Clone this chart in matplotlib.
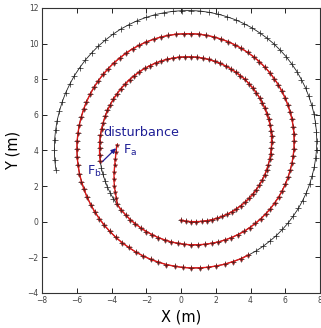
import numpy as np
import matplotlib
matplotlib.use("Agg")
import matplotlib.pyplot as plt

# Reference spiral path in polar form about its centre
centre_x = 0.585
centre_y = 4.30
theta_deg = [-98, -94, -90, -86, -82, -78, -74, -70, -66, -62, -58, -54, -50, -46, -42, -38, -34, -30,
             -26, -22, -18, -14, -10, -6, -2, 2, 6, 10, 14, 18, 22, 26, 30, 34, 38, 42, 46, 50, 54, 58,
             62, 66, 70, 74, 78, 82, 86, 90, 94, 98, 102, 106, 110, 114, 118, 122, 126, 130, 134, 138,
             142, 146, 150, 154, 158, 162, 166, 170, 174, 178, 182, 186, 190, 194, 198, 202, 206, 210,
             214, 218, 222, 226, 230, 234, 238, 242, 246, 250, 254, 258, 262, 266, 270, 274, 278, 282,
             286, 290, 294, 298, 302, 306, 310, 314, 318, 322, 326, 330, 334, 338, 342, 346, 350, 354,
             358, 362, 366, 370, 374, 378, 382, 386, 390, 394, 398, 402, 406, 410, 414, 418, 422, 426,
             430, 434, 438, 442, 446, 450, 454, 458, 462, 466, 470, 474, 478, 482, 486, 490, 494, 498,
             502, 506, 510, 514, 518, 522, 526, 530, 534, 538, 542, 546, 550, 554, 558, 562, 566, 570,
             574, 578, 582, 586, 590, 594, 598, 602, 606, 610, 614, 618, 622, 626, 630, 634, 638, 642,
             646, 650, 654, 658, 662, 666, 670, 674, 678, 682, 686, 690, 694, 698, 702, 706, 710, 714,
             718, 722, 726, 730, 734, 738, 742, 746, 750, 754, 758, 762, 766, 770, 774, 778, 782, 786,
             790, 794, 798, 802, 806, 810, 814, 818, 822, 826, 830, 834, 838, 842, 846, 850, 854, 858,
             862, 866, 870, 874, 878, 882, 886, 890, 894, 898, 902, 906, 910]
radius_m = [4.27, 4.29,
            4.30, 4.31, 4.33, 4.34, 4.36, 4.37, 4.39, 4.40, 4.42,
            4.43, 4.44, 4.46, 4.47, 4.49, 4.50, 4.52, 4.53, 4.55,
            4.56, 4.57, 4.59, 4.60, 4.62, 4.63, 4.65, 4.66, 4.68,
            4.69, 4.70, 4.72, 4.73, 4.75, 4.76, 4.78, 4.79, 4.81,
            4.82, 4.83, 4.85, 4.86, 4.88, 4.89, 4.91, 4.92, 4.94,
            4.95, 4.96, 4.98, 4.99, 5.01, 5.02, 5.04, 5.05, 5.07,
            5.08, 5.09, 5.11, 5.12, 5.14, 5.15, 5.17, 5.18, 5.20,
            5.21, 5.22, 5.24, 5.25, 5.27, 5.28, 5.30, 5.31, 5.33,
            5.34, 5.35, 5.37, 5.38, 5.40, 5.41, 5.43, 5.44, 5.46,
            5.47, 5.48, 5.50, 5.51, 5.53, 5.54, 5.56, 5.57, 5.59,
            5.60, 5.61, 5.63, 5.64, 5.66, 5.67, 5.69, 5.70, 5.72,
            5.73, 5.74, 5.76, 5.77, 5.79, 5.80, 5.82, 5.83, 5.85,
            5.86, 5.87, 5.89, 5.90, 5.92, 5.93, 5.95, 5.96, 5.98,
            5.99, 6.00, 6.02, 6.03, 6.05, 6.06, 6.08, 6.09, 6.11,
            6.12, 6.13, 6.15, 6.16, 6.18, 6.19, 6.21, 6.22, 6.24,
            6.25, 6.26, 6.28, 6.29, 6.31, 6.32, 6.34, 6.35, 6.37,
            6.38, 6.39, 6.41, 6.42, 6.44, 6.45, 6.47, 6.48, 6.50,
            6.51, 6.52, 6.54, 6.55, 6.57, 6.58, 6.60, 6.61, 6.63,
            6.64, 6.65, 6.67, 6.68, 6.70, 6.71, 6.73, 6.74, 6.76,
            6.77, 6.78, 6.80, 6.81, 6.83, 6.84, 6.86, 6.87, 6.89,
            6.90, 6.91, 6.93, 6.94, 6.96, 6.97, 6.99, 7.00, 7.02,
            7.03, 7.04, 7.06, 7.07, 7.09, 7.10, 7.12, 7.13, 7.15,
            7.16, 7.17, 7.19, 7.20, 7.22, 7.23, 7.25, 7.26, 7.28,
            7.29, 7.30, 7.32, 7.33, 7.35, 7.36, 7.38, 7.39, 7.41,
            7.42, 7.43, 7.45, 7.46, 7.48, 7.49, 7.51, 7.52, 7.54,
            7.55, 7.56, 7.58, 7.59, 7.61, 7.62, 7.64, 7.65, 7.67,
            7.68, 7.69, 7.71, 7.72, 7.74, 7.75, 7.77, 7.78, 7.80,
            7.81, 7.82, 7.84, 7.85, 7.87, 7.88, 7.90, 7.91]

# Actual (red) path: follows the reference up to the disturbance point Fb,
# jumps to Fa, then runs back onto the reference
red_part1_max_deg = 190
red_part2_min_deg = 218
red_part2_max_deg = 658
dist_x = [-3.70, -3.74, -3.78, -3.82, -3.85, -3.86, -3.84, -3.79, -3.72]
dist_y = [4.30, 3.92, 3.54, 3.16, 2.78, 2.40, 2.02, 1.65, 1.30]

# Annotations
label_dist = "disturbance"
label_fa = r"$\mathregular{F_a}$"
label_fb = r"$\mathregular{F_b}$"
arrow_from = (-4.55, 3.35)
arrow_to = (-3.74, 4.12)

xticks = [-8, -6, -4, -2, 0, 2, 4, 6, 8]
yticks = [-4, -2, 0, 2, 4, 6, 8, 10, 12]

th = np.deg2rad(np.array(theta_deg, dtype=float))
rr = np.array(radius_m)
px = centre_x + rr * np.cos(th)
py = centre_y + rr * np.sin(th)
tdeg = np.array(theta_deg)

m1 = tdeg <= red_part1_max_deg
m2 = (tdeg >= red_part2_min_deg) & (tdeg <= red_part2_max_deg)
red1_x, red1_y = px[m1], py[m1]
red2_x = np.concatenate([dist_x, px[m2]])
red2_y = np.concatenate([dist_y, py[m2]])

plt.rcParams['font.family'] = ['DejaVu Sans']
fig = plt.figure(figsize=(3.21, 3.28), dpi=100)
ax = fig.add_axes([0.131, 0.107, 0.866, 0.869])

navy = '#1f1f96'

ax.plot(px, py, color='#222222', lw=0.6, marker='+', ms=3.8, mew=0.5, zorder=2)
for xs, ys in [(red1_x, red1_y), (red2_x, red2_y)]:
    ax.plot(xs, ys, color='#e01818', lw=1.0, zorder=3)
    ax.plot(xs, ys, ls='none', marker='*', ms=3.4, mfc='#d01818', mec='#b01010', mew=0.2, zorder=4)
    ax.plot(xs, ys, ls='none', marker='+', ms=2.6, mec='#402020', mew=0.4, zorder=5)

ax.text(-4.45, 4.78, label_dist, color=navy, fontsize=9.2, ha='left', va='baseline')
ax.text(-3.35, 3.78, label_fa, color=navy, fontsize=9.2, ha='left', va='baseline')
ax.text(-5.42, 2.65, label_fb, color=navy, fontsize=9.2, ha='left', va='baseline')
ax.annotate('', xy=arrow_to, xytext=arrow_from,
            arrowprops=dict(arrowstyle='-|>', color=navy, lw=0.9, mutation_scale=7,
                            shrinkA=0, shrinkB=0))

ax.set_xlim(-8, 8)
ax.set_ylim(-4, 12)
ax.set_xticks(xticks)
ax.set_yticks(yticks)
ax.set_xticklabels([str(v).replace('-', '\u2212') for v in xticks])
ax.set_yticklabels([str(v).replace('-', '\u2212') for v in yticks])
ax.tick_params(direction='in', length=3.5, width=0.6, top=True, right=True,
               labelsize=5.5, labelcolor='#444444', pad=2.5)
for s in ax.spines.values():
    s.set_linewidth(0.8)
    s.set_color('#333333')
ax.set_xlabel('X (m)', fontsize=10.5, labelpad=3)
ax.set_ylabel('Y (m)', fontsize=10.5, labelpad=5)

fig.savefig('out.png', dpi=100)
